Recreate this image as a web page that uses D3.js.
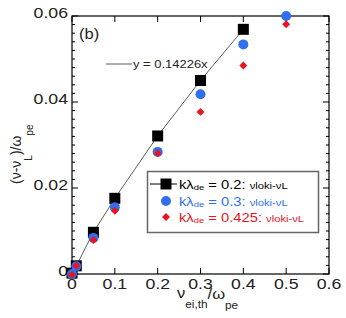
<!DOCTYPE html>
<html>
<head>
<meta charset="utf-8">
<script src="https://cdn.jsdelivr.net/npm/d3@7"></script>
<style>
  body { margin: 0; background: #fff; }
  text { font-family: "Liberation Sans", Arial, sans-serif; }
</style>
</head>
<body>
<div id="chart"></div>
<script>
  // data
  var nuEi = [0, 0.01, 0.05, 0.1, 0.2, 0.3, 0.4, 0.5];
  var k02 = [0.0002, 0.0019, 0.0097, 0.0176, 0.0321, 0.0450, 0.0569];       // black squares (to 0.4)
  var k03 = [0.0000, 0.0018, 0.0084, 0.0155, 0.0284, 0.0418, 0.0534, 0.0600]; // blue circles
  var k0425 = [-0.0002, 0.0019, 0.0079, 0.0147, 0.0281, 0.0377, 0.0485, 0.0581]; // red diamonds
  var xTicks = [0, 0.1, 0.2, 0.3, 0.4, 0.5, 0.6];
  var yTicks = [0, 0.02, 0.04, 0.06];
  var fitLabel = "y =  0.14226x";

  var W = 346, H = 318;
  var margin = {left: 72, top: 16, right: 17, bottom: 44};
  var w = W - margin.left - margin.right;
  var h = H - margin.top - margin.bottom;
  var SX = 1.18; // the original figure is a bit stretched sideways

  var svg = d3.select('#chart').append('svg').attr('width', W).attr('height', H);
  var g = svg.append('g').attr('transform', 'translate(' + margin.left + ',' + margin.top + ')');

  function txt(parent, px, py, size, color) {
    return parent.append('text')
      .attr('transform', 'translate(' + px + ',' + py + ') scale(' + SX + ',1)')
      .attr('font-size', size).attr('fill', color || '#222');
  }

  var x = d3.scaleLinear().domain([0, 0.6]).range([0, w]);
  var y = d3.scaleLinear().domain([0, 0.06]).range([h, 0]);

  // frame
  g.append('rect').attr('width', w).attr('height', h)
    .attr('fill', 'none').attr('stroke', '#000').attr('stroke-width', 1.2);

  // inward ticks on all four sides
  var yMinor = d3.range(0, 0.0601, 0.002);
  function tickLen(v) { return Math.abs(Math.round(v / 0.002) % 10) === 0 ? 6 : 3; }
  g.selectAll('.yl').data(yMinor).enter().append('line')
    .attr('x1', 0).attr('x2', function(d) { return tickLen(d); })
    .attr('y1', function(d) { return y(d); }).attr('y2', function(d) { return y(d); })
    .attr('stroke', '#000');
  g.selectAll('.yr').data(yMinor).enter().append('line')
    .attr('x1', w).attr('x2', function(d) { return w - tickLen(d); })
    .attr('y1', function(d) { return y(d); }).attr('y2', function(d) { return y(d); })
    .attr('stroke', '#000');
  g.selectAll('.xb').data(xTicks).enter().append('line')
    .attr('x1', function(d) { return x(d); }).attr('x2', function(d) { return x(d); })
    .attr('y1', h).attr('y2', h - 6).attr('stroke', '#000');
  g.selectAll('.xt').data(xTicks).enter().append('line')
    .attr('x1', function(d) { return x(d); }).attr('x2', function(d) { return x(d); })
    .attr('y1', 0).attr('y2', 6).attr('stroke', '#000');

  // tick labels
  xTicks.forEach(function(d) {
    txt(g, x(d), h + 15, 15).attr('text-anchor', 'middle')
      .text(d === 0 ? '0' : d3.format('.1f')(d));
  });
  yTicks.forEach(function(d) {
    txt(g, -4, y(d) + 2, 15).attr('text-anchor', 'end')
      .text(d === 0 ? '0' : d3.format('.2f')(d));
  });

  // axis titles
  var xt = txt(svg, 177, 298, 14);
  xt.append('tspan').text('ν');
  xt.append('tspan').attr('dy', 10).attr('font-size', 10).text('ei,th');
  xt.append('tspan').attr('dy', -9).text('/ω');
  xt.append('tspan').attr('dy', 10).attr('font-size', 10).text('pe');

  var yt = svg.append('text').attr('transform', 'translate(21,184) rotate(-90)')
    .attr('font-size', 14).attr('fill', '#222');
  yt.append('tspan').text('(ν-ν');
  yt.append('tspan').attr('dy', 11).attr('font-size', 10).text('L');
  yt.append('tspan').attr('dy', -11).text(')/ω');
  yt.append('tspan').attr('dy', 12).attr('font-size', 10).text('pe');

  txt(svg, 79, 39, 14).text('(b)');

  // black series line
  var blackPts = k02.map(function(v, i) { return [nuEi[i], v]; });
  var line = d3.line().x(function(d) { return x(d[0]); }).y(function(d) { return y(d[1]); });
  g.append('path').datum(blackPts).attr('d', line)
    .attr('fill', 'none').attr('stroke', '#333').attr('stroke-width', 0.8);

  // fit label
  svg.append('line').attr('x1', 106).attr('x2', 132).attr('y1', 64).attr('y2', 64)
    .attr('stroke', '#333').attr('stroke-width', 0.8);
  txt(svg, 133, 68, 11).text(fitLabel);

  var blue = '#2f6ff0', red = '#e8141e';
  var sq = 11;
  g.selectAll('.sq').data(blackPts).enter().append('rect')
    .attr('x', function(d) { return x(d[0]) - sq / 2; })
    .attr('y', function(d) { return y(d[1]) - sq / 2; })
    .attr('width', sq).attr('height', sq).attr('fill', '#000');
  g.selectAll('.ci').data(k03).enter().append('circle')
    .attr('cx', function(d, i) { return x(nuEi[i]); })
    .attr('cy', function(d) { return y(d); })
    .attr('r', 5).attr('fill', blue);
  var diamond = d3.symbol().type(d3.symbolDiamond2).size(40);
  g.selectAll('.di').data(k0425).enter().append('path')
    .attr('transform', function(d, i) { return 'translate(' + x(nuEi[i]) + ',' + y(d) + ')'; })
    .attr('d', diamond).attr('fill', red);

  // legend
  var lg = svg.append('g');
  lg.append('rect').attr('x', 147.5).attr('y', 171.5).attr('width', 171).attr('height', 61)
    .attr('fill', '#fff').attr('stroke', '#666').attr('stroke-width', 1.5);
  var entries = [
    {c: '#000', val: '0.2', cy: 184},
    {c: blue, val: '0.3', cy: 201},
    {c: red, val: '0.425', cy: 217}
  ];
  lg.append('line').attr('x1', 150).attr('x2', 177).attr('y1', 184).attr('y2', 184).attr('stroke', '#000');
  lg.append('rect').attr('x', 166 - sq / 2).attr('y', 184 - sq / 2).attr('width', sq).attr('height', sq).attr('fill', '#000');
  lg.append('circle').attr('cx', 166).attr('cy', 201).attr('r', 5).attr('fill', blue);
  lg.append('path').attr('transform', 'translate(166,217)').attr('d', diamond).attr('fill', red);
  entries.forEach(function(e) {
    var t = txt(lg, 179, e.cy + 4.5, 12.5, e.c);
    t.append('tspan').text('kλ');
    t.append('tspan').attr('font-size', 8).attr('dy', 1).text('de');
    t.append('tspan').attr('dy', -1).text(' = ' + e.val + ': ');
    t.append('tspan').attr('font-size', 9.5).text('νloki-νL');
  });
</script>
</body>
</html>
